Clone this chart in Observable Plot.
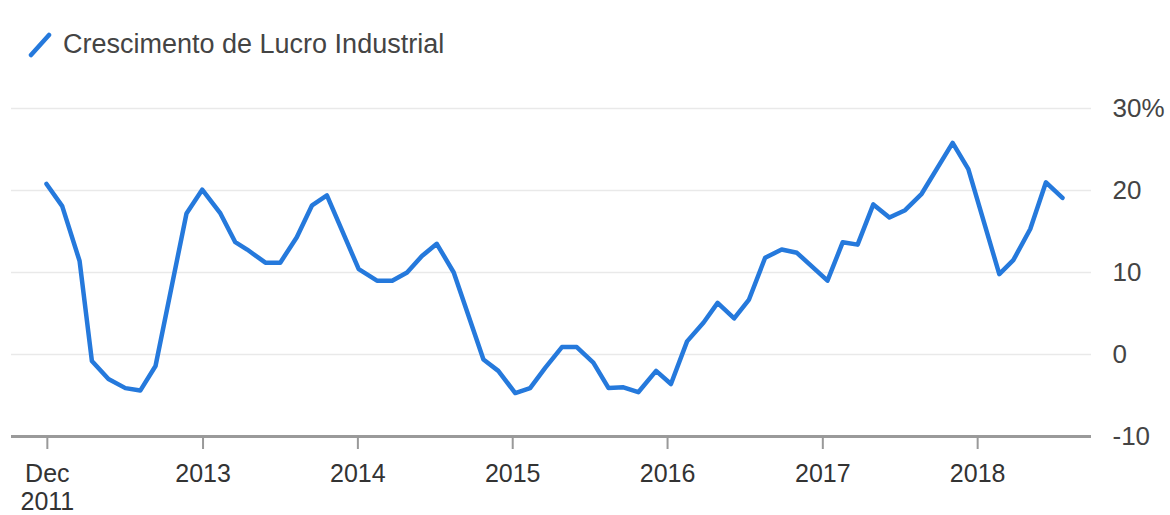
<!DOCTYPE html>
<html><head><meta charset="utf-8">
<script src="https://cdn.jsdelivr.net/npm/d3@7"></script>
<script src="https://cdn.jsdelivr.net/npm/@observablehq/plot@0.6"></script>
<style>
body{margin:0;background:#fff;font-family:"Liberation Sans",Arial,sans-serif;}
#legend{position:relative;height:80px;width:1170px;}
#legend svg{position:absolute;left:28px;top:32px;}
#legend span{position:absolute;left:63px;top:31px;font-size:27px;line-height:27px;color:#444;white-space:nowrap;}
</style></head><body>
<div id="legend"><svg width="24" height="26"><line x1="3" y1="23" x2="21" y2="3" stroke="#2579dc" stroke-width="4.5" stroke-linecap="round"/></svg><span id="legendText"></span></div>
<div id="chart"></div>
<script>
const seriesName = "Crescimento de Lucro Industrial";
const dates = ["2011-12-29","2012-02-04","2012-03-16","2012-04-14","2012-05-23","2012-07-02","2012-08-06","2012-09-11","2012-11-23","2012-12-30",
"2013-02-11","2013-03-18","2013-04-15","2013-05-28","2013-07-02","2013-08-10","2013-09-15","2013-10-20",
"2014-01-03","2014-02-15","2014-03-23","2014-04-27","2014-06-01","2014-07-06","2014-08-15","2014-10-24","2014-11-28",
"2015-01-07","2015-02-11","2015-03-19","2015-04-27","2015-06-01","2015-07-10","2015-08-15","2015-09-19","2015-10-24","2015-12-05",
"2016-01-09","2016-02-16","2016-03-26","2016-04-28","2016-06-06","2016-07-11","2016-08-18","2016-09-26","2016-11-01",
"2017-01-12","2017-02-17","2017-03-24","2017-04-30","2017-06-07","2017-07-14","2017-08-22","2017-11-03","2017-12-10",
"2018-02-21","2018-03-26","2018-05-05","2018-06-11","2018-07-20"];
const values = [20.8,18.1,11.4,-0.8,-3.0,-4.1,-4.4,-1.4,17.2,20.1,
17.2,13.7,12.8,11.2,11.2,14.3,18.2,19.4,
10.4,9.0,9.0,10.0,12.0,13.5,10.0,-0.6,-2.0,
-4.7,-4.1,-1.6,0.9,0.9,-1.0,-4.1,-4.0,-4.6,-2.0,
-3.6,1.6,3.9,6.3,4.4,6.7,11.8,12.8,12.4,
9.0,13.7,13.4,18.3,16.7,17.6,19.6,25.8,22.6,
9.8,11.5,15.3,21.0,19.1];
const xTickDates = ["2011-12-31","2013-01-01","2014-01-01","2015-01-01","2016-01-01","2017-01-01","2018-01-01"];
const xTickLabels = ["Dec\n2011","2013","2014","2015","2016","2017","2018"];
const yTicks = [-10,0,10,20,30];
const yTickLabels = ["-10","0","10","20","30%"];

document.getElementById("legendText").textContent = seriesName;

const data = dates.map((d,i)=>({date:new Date(d+"T00:00:00Z"), value:values[i]}));
const xTicks = xTickDates.map(d=>new Date(d+"T00:00:00Z"));
const xTickTimes = xTicks.map(d=>+d);

const chart = Plot.plot({
  width:1170, height:435,
  marginLeft:11, marginRight:79, marginTop:28, marginBottom:79,
  x:{type:"utc", insetLeft:35, insetRight:29},
  y:{domain:[-10,30]},
  style:{fontFamily:"'Liberation Sans', Arial, sans-serif", background:"#fff", overflow:"visible"},
  marks:[
    Plot.gridY(yTicks.filter(t=>t>-10), {stroke:"#e9e9e9", strokeOpacity:1, strokeWidth:1.5}),
    Plot.ruleY([-10], {stroke:"#9a9a9a", strokeWidth:3}),
    Plot.axisY(yTicks, {anchor:"right", label:null, tickSize:0, tickPadding:21, fontSize:26, fill:"#444",
      tickFormat:d=>yTickLabels[yTicks.indexOf(d)]}),
    Plot.axisX(xTicks, {anchor:"bottom", label:null, tickSize:13, tickPadding:13, fontSize:25, lineHeight:1.12,
      stroke:"#999", strokeWidth:2, fill:"#333",
      tickFormat:d=>xTickLabels[xTickTimes.indexOf(+d)]}),
    Plot.lineY(data, {x:"date", y:"value", stroke:"#2579dc", strokeWidth:4.5, strokeLinejoin:"round", strokeLinecap:"round"})
  ]
});
document.getElementById("chart").appendChild(chart);
</script>
</body></html>
